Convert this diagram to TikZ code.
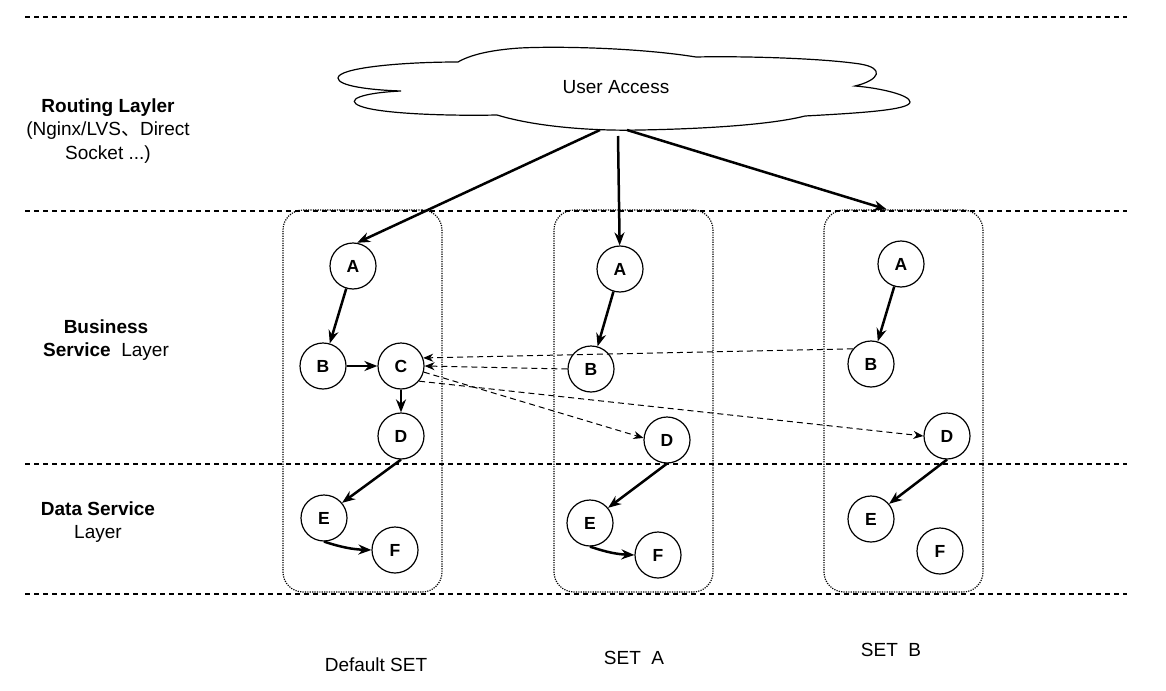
\documentclass[tikz,border=0pt]{standalone}
\usepackage{fontspec}
\setmainfont{Liberation Sans}
\newfontfamily\cjk{Noto Sans CJK SC}
\usepackage{tikz}
\usetikzlibrary{arrows.meta,positioning}
\tikzset{
  circ/.style={circle, draw, line width=1.2pt, minimum size=46pt, inner sep=0pt,
    font=\bfseries\fontsize{17.5}{17.5}\selectfont},
  setbox/.style={draw, dash pattern=on 1.2pt off 1.2pt, line width=1.2pt, rounded corners=20pt,
    minimum width=159pt, minimum height=382pt},
  lbl/.style={align=center, font=\fontsize{19}{23.5}\selectfont},
  sep/.style={dash pattern=on 5pt off 4pt, line width=1.2pt},
  flow/.style={-{Stealth[length=13pt,width=10pt]}, line width=2.5pt},
  call/.style={-{Stealth[length=10pt,width=8pt]}, dash pattern=on 6pt off 4pt, line width=1pt}
}
\begin{document}
\begin{tikzpicture}[x=1pt, y=-1pt]
  \useasboundingbox (0,0) rectangle (1166,690);
  % layer borders
  \draw[sep] (25,17) -- (1127,17);
  \draw[sep] (25,211) -- (1127,211);
  \draw[sep] (25,464) -- (1127,464);
  \draw[sep] (25,594) -- (1127,594);
  % layer names
  \node[lbl] (route) at (108,131) {\textbf{Routing Layler}\\(Nginx/LVS{\cjk 、}Direct\\Socket ...)};
  \node[lbl] (biz)   at (106,340) {\textbf{Business}\\\textbf{Service}\ \ Layer};
  \node[lbl] (data)  at (98,522)  {\textbf{Data Service}\\Layer};
  % entry cloud
  \draw[line width=1.2pt] (458,62) .. controls (400,62) and (338,68) .. (338,78)
        .. controls (338,86) and (370,90) .. (401,91)
        .. controls (360,93) and (345,100) .. (360,106)
        .. controls (380,114) and (450,116) .. (497,115)
        .. controls (540,128) and (600,131) .. (640,130)
        .. controls (700,129) and (770,125) .. (805,116)
        .. controls (860,113) and (910,110) .. (910,102)
        .. controls (910,95) and (880,88) .. (855,86)
        .. controls (880,80) and (885,68) .. (860,64)
        .. controls (820,58) and (740,56) .. (696,57)
        .. controls (640,48) and (560,46) .. (520,48)
        .. controls (490,50) and (470,55) .. cycle;
  \node[font=\fontsize{19}{19}\selectfont] (user) at (616,87) {User Access};
  \coordinate (outD) at (600,130);
  \coordinate (outA) at (618,136);
  \coordinate (outB) at (627,130);
  % sets
  \node[setbox] (setD) at (362.5,401) {};
  \node[setbox] (setA) at (633.5,401) {};
  \node[setbox] (setB) at (903.5,401) {};
  \node[lbl] (nameD) at (376,665) {Default SET};
  \node[lbl] (nameA) at (634,658) {SET\ \ A};
  \node[lbl] (nameB) at (891,650) {SET\ \ B};
  % default SET
  \node[circ] (dA) at (353,266) {A};
  \node[circ, on grid, below left=100pt and 30pt of dA] (dB) {B};
  \node[circ, on grid, right=78pt of dB] (dC) {C};
  \node[circ, on grid, below=70pt of dC] (dD) {D};
  \node[circ, on grid, below left=82pt and 77pt of dD] (dE) {E};
  \node[circ, on grid, below right=32pt and 71pt of dE] (dF) {F};
  % SET A
  \node[circ] (aA) at (620,269) {A};
  \node[circ, on grid, below left=100pt and 29pt of aA] (aB) {B};
  \node[circ, on grid, below right=71pt and 76pt of aB] (aD) {D};
  \node[circ, on grid, below left=83pt and 77pt of aD] (aE) {E};
  \node[circ, on grid, below right=32pt and 68pt of aE] (aF) {F};
  % SET B
  \node[circ] (bA) at (901,264) {A};
  \node[circ, on grid, below left=100pt and 30pt of bA] (bB) {B};
  \node[circ, on grid, below right=72pt and 76pt of bB] (bD) {D};
  \node[circ, on grid, below left=83pt and 76pt of bD] (bE) {E};
  \node[circ, on grid, below right=32pt and 69pt of bE] (bF) {F};
  % routing
  \draw[flow] (outD) -- (dA.80);
  \draw[flow] (outA) -- (aA);
  \draw[flow] (outB) -- (setB.95);
  % calls inside each SET
  \draw[flow] (dA) -- (dB);
  \draw[flow] (dB) -- (dC);
  \draw[flow] (dC) -- (dD);
  \draw[flow] (dD.south) -- (dE.40);
  \draw[flow] (dE.south) to[bend right=8] (dF.west);
  \draw[flow] (aA) -- (aB);
  \draw[flow] (aD.south) -- (aE.40);
  \draw[flow] (aE.south) to[bend right=8] (aF.west);
  \draw[flow] (bA) -- (bB);
  \draw[flow] (bD.south) -- (bE.40);
  % calls across SETs
  \draw[call] (bB.140) -- (dC.20);
  \draw[call] (aB.west) -- (dC.east);
  \draw[call] (dC.-15) -- (aD.175);
  \draw[call] (dC.-40) -- (bD.west);
\end{tikzpicture}
\end{document}
